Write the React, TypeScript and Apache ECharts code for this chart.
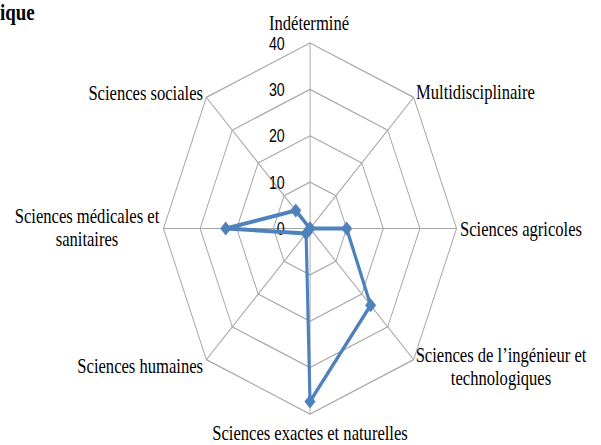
import React, { useEffect, useRef } from "react";
import * as echarts from "echarts";

// Categories in clockwise order starting at the top
const categories = [
  "Indéterminé",
  "Multidisciplinaire",
  "Sciences agricoles",
  "Sciences de l’ingénieur et\ntechnologiques",
  "Sciences exactes et naturelles",
  "Sciences humaines",
  "Sciences médicales et\nsanitaires",
  "Sciences sociales",
];
const values = [0, 0, 10, 23.4, 37.3, 1.5, 23, 5.5];
const tickLabels = [0, 10, 20, 30, 40];
const axisMax = 40;

const S = 0.79; // horizontal squeeze of the reference picture
const W = Math.round(601 / S);
const H = 445;
const CX = 310 / S;
const CY = 228.5;
const R = 185.5;

// label placement (post-squeeze pixel coords, converted below)
const labelPlaces: { x: number; y: number; align: string }[] = [
  { x: 309, y: 23, align: "center" },
  { x: 416, y: 92, align: "left" },
  { x: 460, y: 229, align: "left" },
  { x: 501, y: 366.5, align: "center" },
  { x: 310, y: 433, align: "center" },
  { x: 203, y: 366, align: "right" },
  { x: 87, y: 227.5, align: "center" },
  { x: 203, y: 93, align: "right" },
];

export default function App() {
  const ref = useRef<HTMLDivElement>(null);
  useEffect(() => {
    if (!ref.current) return;
    const chart = echarts.init(ref.current, null, { renderer: "svg" });
    // ECharts radar runs counter-clockwise: reorder so that visual order is clockwise
    const order = [0, ...categories.map((_, i) => i).slice(1).reverse()];
    const indicator = order.map((i, k) => {
      const base: any = { name: categories[i], min: 0, max: axisMax };
      if (k === 0) {
        base.axisLabel = {
          show: true,
          color: "#000",
          fontFamily: "Liberation Sans",
          fontSize: 18,
          margin: 32,
          formatter: (v: number) => (tickLabels.indexOf(v) >= 0 ? String(v) : ""),
        };
      }
      return base;
    });
    const gray = "#A6A6A6";
    chart.setOption({
      animation: false,
      backgroundColor: "#fff",
      radar: {
        center: [CX, CY],
        radius: R,
        startAngle: 90,
        splitNumber: 4,
        shape: "polygon",
        indicator,
        axisName: { show: false },
        splitLine: { lineStyle: { color: gray, width: 1.2 } },
        axisLine: { lineStyle: { color: gray, width: 1.2 } },
        splitArea: { show: false },
        axisTick: { show: false },
        axisLabel: { show: false },
      },
      series: [
        {
          type: "radar",
          symbol: "diamond",
          symbolSize: 14,
          lineStyle: { color: "#4F81BD", width: 4 },
          itemStyle: { color: "#4F81BD" },
          data: [{ value: order.map((i) => values[i]) }],
        },
      ],
      graphic: [
        {
          type: "text",
          x: 0,
          y: 12,
          style: {
            text: "ique",
            fontFamily: "Liberation Serif",
            fontWeight: "bold",
            fontSize: 24,
            fill: "#000",
            verticalAlign: "middle",
          },
        },
        ...categories.map((c, i) => ({
          type: "text",
          x: labelPlaces[i].x / S,
          y: labelPlaces[i].y,
          style: {
            text: c,
            fontFamily: "Liberation Serif",
            fontSize: 21,
            lineHeight: 23,
            fill: "#000",
            align: labelPlaces[i].align,
            verticalAlign: "middle",
          },
        })),
      ],
    });
    return () => chart.dispose();
  }, []);
  return (
    <div
      style={{
        position: "absolute",
        left: 0,
        top: 0,
        width: 601,
        height: H,
        overflow: "hidden",
        background: "#fff",
      }}
    >
      <div
        ref={ref}
        style={{
          width: W,
          height: H,
          transform: `scaleX(${S})`,
          transformOrigin: "0 0",
        }}
      />
    </div>
  );
}
